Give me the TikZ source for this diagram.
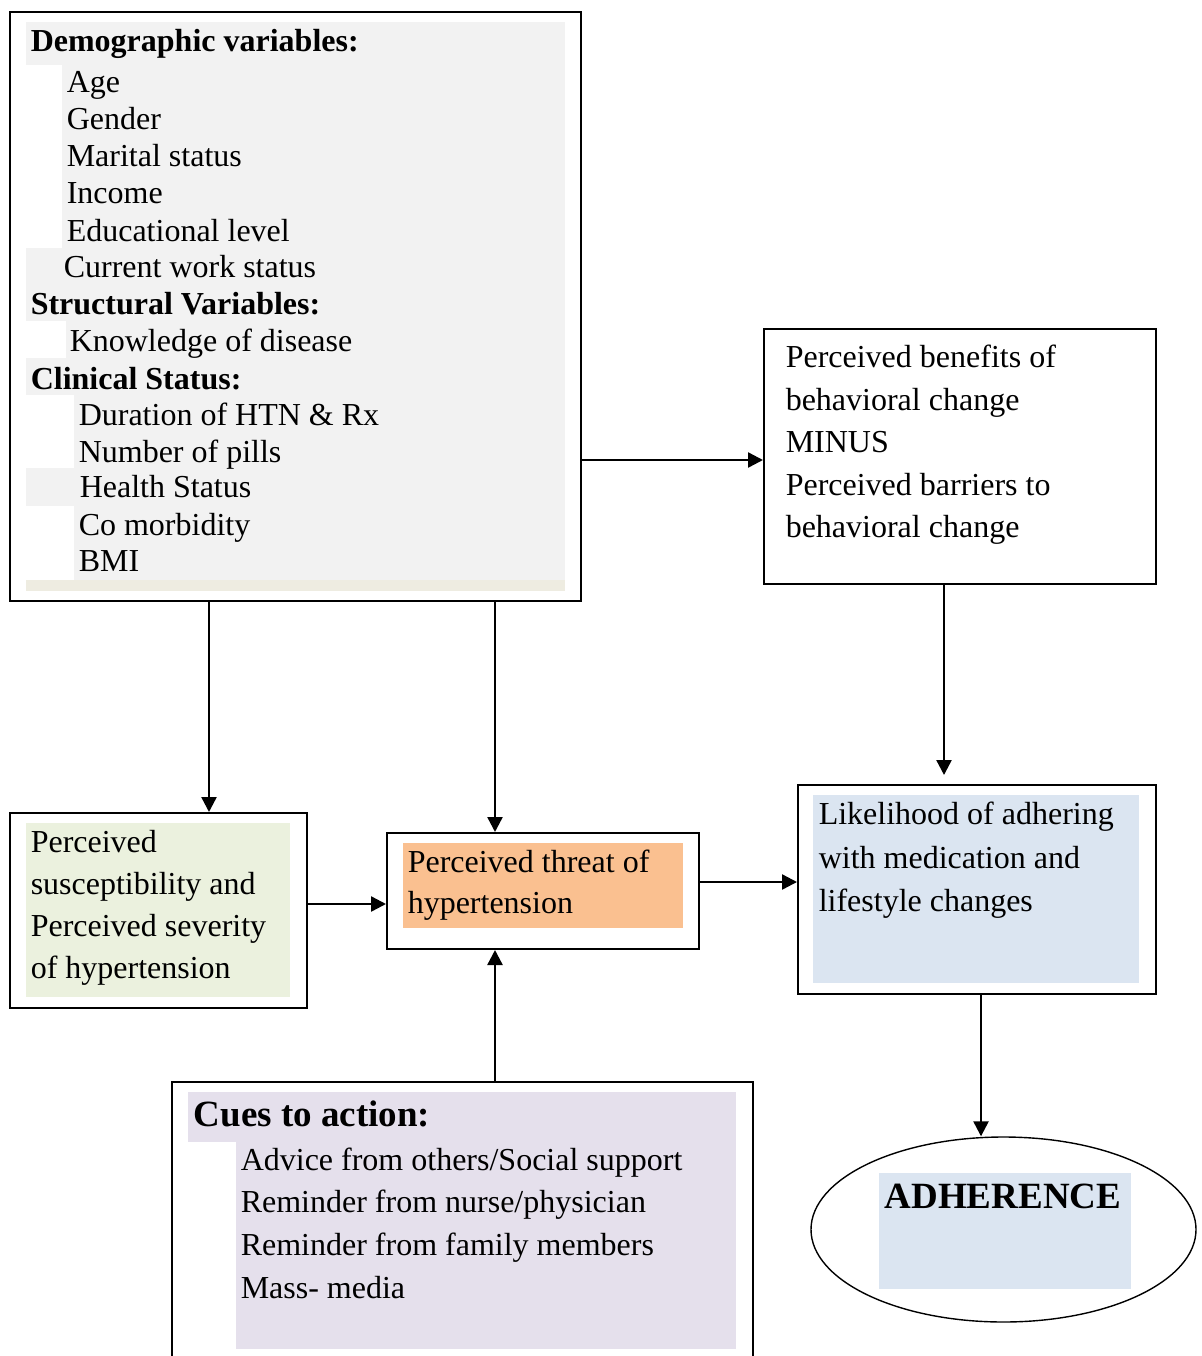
\documentclass[tikz,border=0pt]{standalone}
\usepackage{fontspec}
\setmainfont{Liberation Serif}
\usetikzlibrary{arrows.meta,positioning,shapes.geometric}
\definecolor{boxgrey}{HTML}{F2F2F2}
\definecolor{stripbeige}{HTML}{EEECE1}
\definecolor{softgreen}{HTML}{EBF1DE}
\definecolor{softorange}{HTML}{FAC090}
\definecolor{softblue}{HTML}{DBE5F1}
\definecolor{softlilac}{HTML}{E5E0EC}
\tikzset{every picture/.style={line width=1.5pt}}

\begin{document}
\begin{tikzpicture}[x=1pt,y=-1pt,
    frame/.style={draw, line width=2pt, anchor=north west, inner sep=0pt},
    txt/.style={anchor=base west, inner sep=0pt, font=\fontsize{32}{37}\selectfont},
    head/.style={txt, font=\fontsize{32}{37}\selectfont\bfseries},
    bighead/.style={txt, font=\fontsize{37}{42}\selectfont\bfseries},
    link/.style={-{Triangle[length=15pt,width=15pt]}, line width=2.4pt}]
    \useasboundingbox (0,0) rectangle (1201,1356);
    \clip (0,0) rectangle (1201,1356);

    % boxes
    \node[frame, minimum width=571pt, minimum height=589pt] (demo) at (9,11) {};
    \node[frame, minimum width=392pt, minimum height=255pt] (benefit) at (763,328) {};
    \node[frame, minimum width=297pt, minimum height=195pt] (suscept) at (9,812) {};
    \node[frame, minimum width=312pt, minimum height=116pt] (threat) at (386,832) {};
    \node[frame, minimum width=358pt, minimum height=209pt] (likely) at (797,784) {};
    \node[frame, minimum width=581pt, minimum height=320pt] (cues) at (171,1081) {};
    \node[draw, ellipse, line width=1.4pt, inner sep=0pt, minimum width=385pt,
          minimum height=185pt] (adhere) at (1003.5,1229.5) {};

    % shading
    \fill[boxgrey] (26,22) rectangle (565,580);
    \fill[stripbeige] (26,580) rectangle (565,591);
    \fill[white] (26,65) rectangle (62,248);
    \fill[white] (26,321) rectangle (66,358);
    \fill[white] (26,395) rectangle (74,468);
    \fill[white] (26,506) rectangle (74,580);
    \fill[softgreen] (26,823) rectangle (290,997);
    \fill[softorange] (403,843) rectangle (683,928);
    \fill[softblue] (813,795) rectangle (1139,983);
    \fill[softblue] (879,1173) rectangle (1131,1289);
    \fill[softlilac] (188,1092) rectangle (736,1142);
    \fill[softlilac] (236,1142) rectangle (736,1349);

    % demographic box
    \node[head] (dhead) at (30,52) {Demographic variables:};
    \node[txt] (dage) at (66,93) {Age};
    \node[txt] (dgender) at (66,130) {Gender};
    \node[txt] (dmarital) at (66,167) {Marital status};
    \node[txt] (dincome) at (66,204) {Income};
    \node[txt] (dedu) at (66,241) {Educational level};
    \node[txt] (dwork) at (63,277) {Current work status};
    \node[head] (shead) at (30,314) {Structural Variables:};
    \node[txt] (sknow) at (69,351) {Knowledge of disease};
    \node[head] (chead) at (30,389) {Clinical Status:};
    \node[txt] (cdur) at (78,425) {Duration of HTN \& Rx};
    \node[txt] (cpills) at (78,462) {Number of pills};
    \node[txt] (chealth) at (79,497) {Health Status};
    \node[txt] (ccomorb) at (78,535) {Co morbidity};
    \node[txt] (cbmi) at (78,571) {BMI};

    % benefits box
    \node[txt] (b1) at (785,367) {Perceived benefits of};
    \node[txt] (b2) at (785,410) {behavioral change};
    \node[txt] (b3) at (785,452) {MINUS};
    \node[txt] (b4) at (785,495) {Perceived barriers to};
    \node[txt] (b5) at (785,537) {behavioral change};

    % susceptibility box
    \node[txt] (s1) at (30,852) {Perceived};
    \node[txt] (s2) at (30,894) {susceptibility and};
    \node[txt] (s3) at (30,936) {Perceived severity};
    \node[txt] (s4) at (30,978) {of hypertension};

    % threat box
    \node[txt] (t1) at (407,872) {Perceived threat of};
    \node[txt] (t2) at (407,913) {hypertension};

    % likelihood box
    \node[txt] (l1) at (818,824) {Likelihood of adhering};
    \node[txt] (l2) at (818,868) {with medication and};
    \node[txt] (l3) at (818,911) {lifestyle changes};

    % adherence
    \node[bighead] (adlabel) at (884,1208) {ADHERENCE};

    % cues box
    \node[bighead] (qhead) at (193,1126) {Cues to action:};
    \node[txt] (q1) at (240,1170) {Advice from others/Social support};
    \node[txt] (q2) at (240,1212) {Reminder from nurse/physician};
    \node[txt] (q3) at (240,1255) {Reminder from family members};
    \node[txt] (q4) at (240,1298) {Mass- media};

    % connectors
    \coordinate (leftaxis) at (209,0);
    \coordinate (midaxis) at (495,0);
    \coordinate (benaxis) at (944,0);
    \coordinate (adhaxis) at (981,0);
    \coordinate (toprow) at (0,460);
    \coordinate (sevrow) at (0,904);
    \coordinate (thrrow) at (0,882);
    \draw[link] (demo.east |- toprow) -- (benefit.west |- toprow);
    \draw[link, shorten >=9pt] (benefit.south -| benaxis) -- (likely.north -| benaxis);
    \draw[link] (demo.south -| leftaxis) -- (suscept.north -| leftaxis);
    \draw[link] (demo.south -| midaxis) -- (threat.north -| midaxis);
    \draw[link] (suscept.east |- sevrow) -- (threat.west |- sevrow);
    \draw[link] (threat.east |- thrrow) -- (likely.west |- thrrow);
    \draw[link] (cues.north -| midaxis) -- (threat.south -| midaxis);
    \draw[link] (likely.south -| adhaxis) -- (adhere.north -| adhaxis);
\end{tikzpicture}
\end{document}
